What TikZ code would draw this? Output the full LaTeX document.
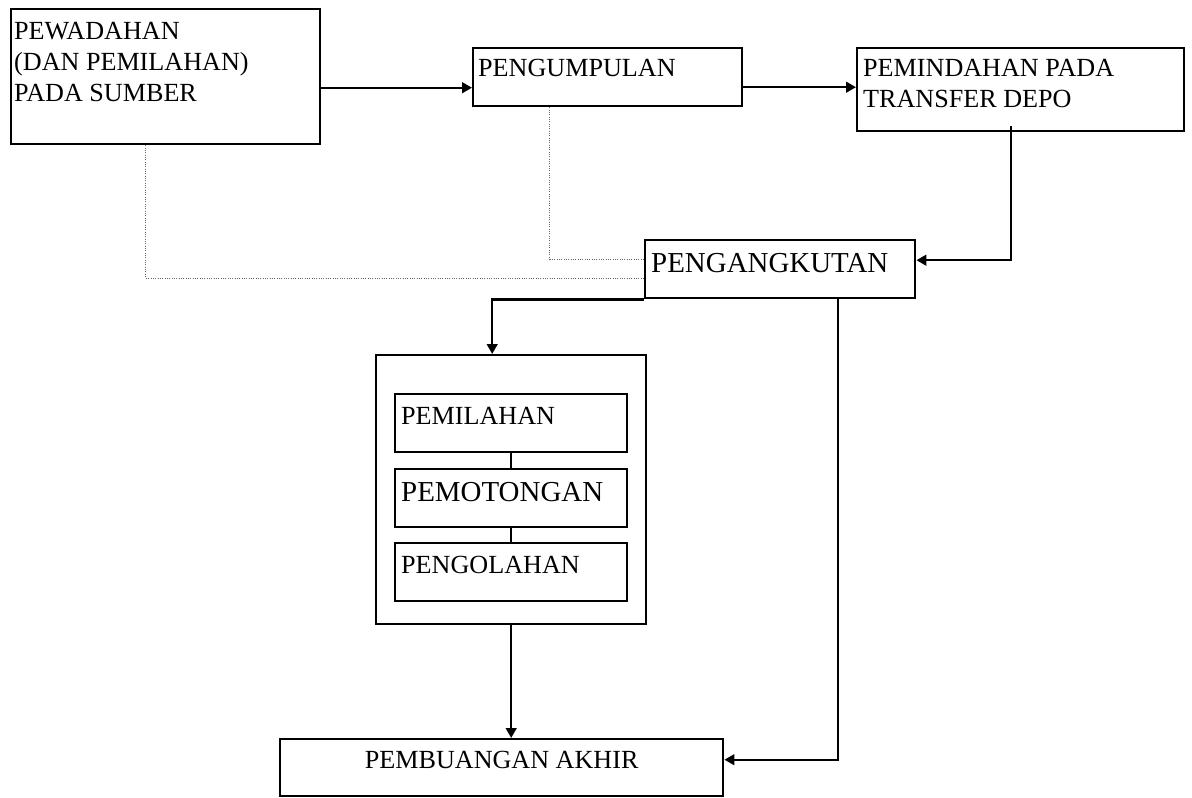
\documentclass[tikz,border=0pt]{standalone}
\usepackage{fontspec}
\setmainfont{Liberation Serif}
\usepackage{tikz}
\usetikzlibrary{calc}
\usetikzlibrary{arrows.meta}
\newlength{\pxu}
\setlength{\pxu}{0.75pt}
\newcommand{\boxtext}[5]{\parbox[c][#2\pxu][t]{#1\pxu}{\leftskip=#3\pxu\rule{0pt}{#4\pxu}#5}}
\newcommand{\normalsz}{\fontsize{19.6}{23.4}\selectfont}
\newcommand{\bigsz}{\fontsize{21.7}{24}\selectfont}

\begin{document}
\begin{tikzpicture}[x=0.75pt,y=-0.75pt,
    box/.style={draw,line width=1.8pt,inner sep=0pt,anchor=north west},
    flow/.style={line width=1.8pt,-{Triangle[length=7.5pt,width=8pt]}},
    dotline/.style={densely dotted,gray!80!black,line width=0.75pt}]
            \useasboundingbox (0,0) rectangle (1192,797);
            \node[box] (wadah) at (10,8) {\boxtext{309}{135}{3}{30}{\normalsz PEWADAHAN\\(DAN PEMILAHAN)\\PADA SUMBER}};
            \node[box] (kumpul) at (472,47) {\boxtext{269}{58}{5}{28}{\normalsz PENGUMPULAN}};
            \node[box] (pindah) at (856,47) {\boxtext{327}{83}{6}{28}{\normalsz PEMINDAHAN PADA\\TRANSFER DEPO}};
            \node[box] (angkut) at (644,239) {\boxtext{270}{58}{6}{32}{\bigsz PENGANGKUTAN}};
            \node[box,minimum width=202.5pt,minimum height=201.75pt] (proses) at (375,354) {};
            \node[box] (pilah) at (394,393) {\boxtext{232}{58}{6}{30}{\normalsz PEMILAHAN}};
            \node[box] (potong) at (394,468) {\boxtext{232}{58}{6}{32}{\bigsz PEMOTONGAN}};
            \node[box] (olah) at (394,542) {\boxtext{232}{58}{6}{30}{\normalsz PENGOLAHAN}};
            \node[box] (buang) at (279,738) {\boxtext{443}{57}{0}{29}{\centering\normalsz PEMBUANGAN AKHIR}};
            % alur utama
            \draw[flow] ($(wadah.east)+(0,11)$) coordinate (ab) -- (kumpul.west |- ab);
            \draw[flow] ($(kumpul.east)+(0,10)$) coordinate (bc) -- (pindah.west |- bc);
            \draw[flow] ($(pindah.south)+(-10,-6)$) |- ($(angkut.east)+(0,-9)$);
            \draw[flow] (angkut.south west) -| ($(proses.north)+(-19,0)$);
            \draw[flow] ($(angkut.south)+(58,0)$) |- ($(buang.east)+(0,-8)$);
            \draw[flow] (proses.south) -- (proses.south |- buang.north);
            \draw[line width=1.8pt] (pilah.south) -- (potong.north);
            \draw[line width=1.8pt] (potong.south) -- (olah.north);
            % jalur langsung
            \draw[dotline] ($(wadah.south)+(-20,0)$) |- ($(angkut.west)+(0,9)$);
            \draw[dotline] ($(kumpul.south)+(-58,0)$) |- ($(angkut.west)+(0,-10)$);
        \end{tikzpicture}
\end{document}
